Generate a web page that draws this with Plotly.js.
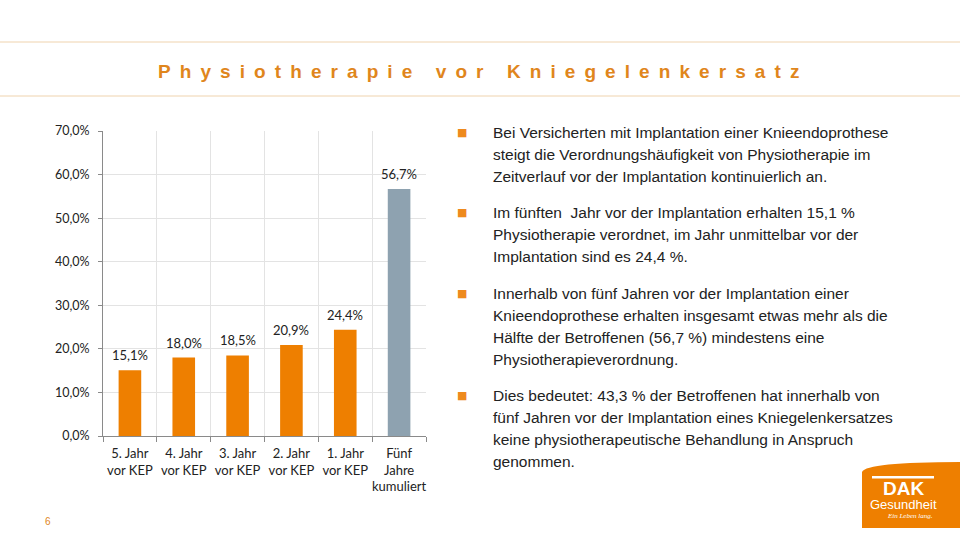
<!DOCTYPE html>
<html>
<head>
<meta charset="utf-8">
<script src="https://cdn.plot.ly/plotly-3.0.1.min.js"></script>
<style>html,body{margin:0;padding:0;background:#fff;}#chart{width:960px;height:540px;}</style>
</head>
<body>
<div id="chart"></div>
<script>
// ---- data ----
const categories = ["5. Jahr<br>vor KEP", "4. Jahr<br>vor KEP", "3. Jahr<br>vor KEP", "2. Jahr<br>vor KEP", "1. Jahr<br>vor KEP", "Fünf<br>Jahre<br>kumuliert"];
const values = [15.1, 18.0, 18.5, 20.9, 24.4, 56.7];
const barColors = ["#EE7F00", "#EE7F00", "#EE7F00", "#EE7F00", "#EE7F00", "#8EA2B0"];
const yTicks = [0, 10, 20, 30, 40, 50, 60, 70];
const yTickLabels = ["0,0%", "10,0%", "20,0%", "30,0%", "40,0%", "50,0%", "60,0%", "70,0%"];

const titleText = "Physiotherapie vor Kniegelenkersatz";
const bullets = [
  ["Bei Versicherten mit Implantation einer Knieendoprothese",
   "steigt die Verordnungshäufigkeit von Physiotherapie im",
   "Zeitverlauf vor der Implantation kontinuierlich an."],
  ["Im fünften  Jahr vor der Implantation erhalten 15,1 %",
   "Physiotherapie verordnet, im Jahr unmittelbar vor der",
   "Implantation sind es 24,4 %."],
  ["Innerhalb von fünf Jahren vor der Implantation einer",
   "Knieendoprothese erhalten insgesamt etwas mehr als die",
   "Hälfte der Betroffenen (56,7 %) mindestens eine",
   "Physiotherapieverordnung."],
  ["Dies bedeutet: 43,3 % der Betroffenen hat innerhalb von",
   "fünf Jahren vor der Implantation eines Kniegelenkersatzes",
   "keine physiotherapeutische Behandlung in Anspruch",
   "genommen."]
];

// spaced title
function spaced(s) {
  return s.split(" ").map(w => w.split("").join("\u00A0\u2009")).join("\u00A0\u2009\u00A0\u00A0\u2009");
}

const W = 960, H = 540;
const px = x => x / W;
const py = y => 1 - y / H;

const annotations = [];
// value labels above bars (data coordinates)
values.forEach((v, i) => {
  annotations.push({
    xref: "x", yref: "y", x: categories[i], y: v, xanchor: "center", yanchor: "bottom",
    yshift: 5, showarrow: false,
    text: v.toFixed(1).replace(".", ",") + "%",
    font: {family: "Lato, sans-serif", size: 13, color: "#222"}
  });
});
annotations.push({
  xref: "paper", yref: "paper", x: px(478), y: py(71), xanchor: "center", yanchor: "middle",
  text: spaced(titleText), showarrow: false,
  font: {family: "Liberation Sans, Arial, sans-serif", size: 19, color: "#E0861C", weight: "bold"}
});
const bulletStarts = [133, 213, 293, 395];
bullets.forEach((para, i) => {
  annotations.push({
    xref: "paper", yref: "paper", x: px(462), y: py(bulletStarts[i]), xanchor: "center", yanchor: "middle",
    text: "■", showarrow: false, font: {family: "DejaVu Sans", size: 11, color: "#EE8A1E"}
  });
  para.forEach((line, j) => {
    annotations.push({
      xref: "paper", yref: "paper", x: px(491), y: py(bulletStarts[i] + 22 * j), xanchor: "left", yanchor: "middle",
      text: line, showarrow: false,
      font: {family: "Liberation Sans Narrow, Arial Narrow, Liberation Sans, sans-serif", size: 15.5, color: "#222"}
    });
  });
});
annotations.push({
  xref: "paper", yref: "paper", x: px(48), y: py(521), xanchor: "center", yanchor: "middle",
  text: "6", showarrow: false, font: {family: "Liberation Sans, Arial", size: 10, color: "#E0861C"}
});
// logo texts
annotations.push({
  xref: "paper", yref: "paper", x: px(903), y: py(488), xanchor: "center", yanchor: "middle",
  text: "<b>DAK</b>", showarrow: false, font: {family: "Liberation Sans, Arial", size: 19, color: "#fff"}
});
annotations.push({
  xref: "paper", yref: "paper", x: px(903), y: py(504), xanchor: "center", yanchor: "middle",
  text: "Gesundheit", showarrow: false, font: {family: "Liberation Sans Narrow, Arial Narrow, sans-serif", size: 13, color: "#fff"}
});
annotations.push({
  xref: "paper", yref: "paper", x: px(910), y: py(516), xanchor: "center", yanchor: "middle",
  text: "<i>Ein Leben lang.</i>", showarrow: false, font: {family: "Liberation Serif", size: 7, color: "#fff"}
});

const shapes = [
  {type: "line", xref: "paper", yref: "paper", x0: 0, x1: 1, y0: py(42), y1: py(42), line: {color: "#EFD3AE", width: 1}},
  {type: "line", xref: "paper", yref: "paper", x0: 0, x1: 1, y0: py(96), y1: py(96), line: {color: "#EFD3AE", width: 1}},
  {type: "path", xref: "paper", yref: "paper",
   path: `M ${px(862)} ${py(472)} Q ${px(866)} ${py(462)} ${px(960)} ${py(462)} L ${px(960)} ${py(528)} L ${px(862)} ${py(528)} Z`,
   fillcolor: "#EE7F00", line: {width: 0}},
  {type: "rect", xref: "paper", yref: "paper", x0: px(872), x1: px(934), y0: py(476), y1: py(478.5), fillcolor: "#fff", line: {width: 0}}
];

const trace = {
  type: "bar", x: categories, y: values,
  marker: {color: barColors},
  width: 0.42,
  hoverinfo: "none"
};

const layout = {
  width: W, height: H,
  margin: {l: 0, r: 0, t: 0, b: 0},
  paper_bgcolor: "#fff", plot_bgcolor: "#fff",
  separators: ",.",
  showlegend: false,
  xaxis: {
    domain: [px(103), px(426)],
    type: "category",
    tickson: "boundaries",
    tickangle: 0,
    ticklabelstandoff: 5,
    showgrid: true, gridcolor: "#E3E3E3", gridwidth: 1,
    showline: true, linecolor: "#8A8A8A", linewidth: 1,
    ticks: "outside", ticklen: 5, tickcolor: "#8A8A8A",
    tickfont: {family: "Lato, sans-serif", size: 13, color: "#222"},
    fixedrange: true
  },
  yaxis: {
    domain: [py(436), py(131)],
    range: [0, 70],
    tickmode: "array",
    tickvals: yTicks,
    ticktext: yTickLabels,
    ticklabelstandoff: 6,
    showgrid: true, gridcolor: "#E3E3E3", gridwidth: 1,
    showline: true, linecolor: "#8A8A8A", linewidth: 1,
    ticks: "outside", ticklen: 4, tickcolor: "#8A8A8A",
    tickfont: {family: "Lato, sans-serif", size: 12.5, color: "#222"},
    zeroline: false,
    fixedrange: true
  },
  annotations: annotations,
  shapes: shapes
};

Plotly.newPlot("chart", [trace], layout, {displayModeBar: false, staticPlot: true});
</script>
</body>
</html>
